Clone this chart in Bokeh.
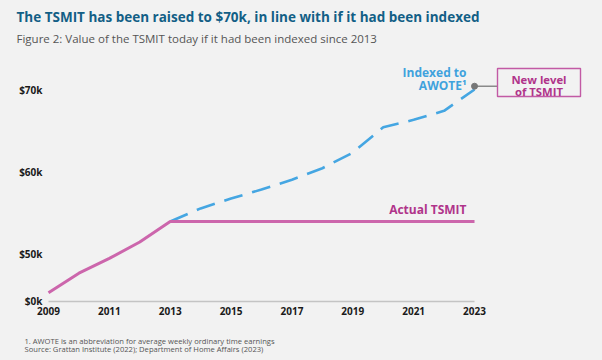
from bokeh.plotting import figure
from bokeh.models import Label, FixedTicker, CustomJSTickFormatter, Range1d, LinearAxis, BoxAnnotation
from bokeh.embed import file_html
from bokeh.resources import INLINE

# ---- data (values in $ thousands) ----
years = list(range(2009, 2024))
actual_tsmit = [45.2, 47.6, 49.4, 51.4, 53.9, 53.9, 53.9, 53.9, 53.9, 53.9, 53.9, 53.9, 53.9, 53.9, 53.9]
indexed_years = list(range(2013, 2024))
indexed_awote = [53.9, 55.5, 56.7, 57.8, 59.0, 60.4, 62.3, 65.4, 66.3, 67.4, 70.0]
x_ticks = [2009, 2011, 2013, 2015, 2017, 2019, 2021, 2023]
y_ticks = [44.15, 50, 60, 70]   # 44.15 is the axis-break position shown as "$0k"
zero_pos = 44.15

BG = "#f2f2f2"
PINK = "#cc66ac"
PINK_TXT = "#b0348a"
BLUE = "#45a6e2"
BLUE_TXT = "#3fa2dd"
TITLE_C = "#125f86"
FONT = "Open Sans"

W, H = 590, 358
# pixel geometry of the chart area
PXY = 30.43          # pixels per year
PXK = 8.2            # pixels per $1k
X_2009 = 48          # pixel x of 2009
Y_50K = 253          # pixel y of $50k


def dx(px):
    return 2009 + (px - X_2009) / PXY


def dy(py):
    return 50 + (Y_50K - py) / PXK


p = figure(width=W, height=H, output_backend="svg", toolbar_location=None,
           x_range=Range1d(dx(0), dx(W)), y_range=Range1d(dy(H), dy(0)),
           x_axis_type=None, y_axis_type=None,
           min_border_left=0, min_border_right=0, min_border_top=0, min_border_bottom=0)
p.background_fill_color = BG
p.border_fill_color = BG
p.outline_line_color = None
p.grid.visible = False

xaxis = LinearAxis(ticker=FixedTicker(ticks=x_ticks), fixed_location=dy(304))
yaxis = LinearAxis(ticker=FixedTicker(ticks=y_ticks), fixed_location=dx(44))
yaxis.formatter = CustomJSTickFormatter(code="""
    if (tick < 45) { return "$0k"; }
    return "$" + tick.toFixed(0) + "k";
""")
for ax in (xaxis, yaxis):
    ax.axis_line_color = None
    ax.major_tick_line_color = None
    ax.minor_tick_line_color = None
    ax.major_tick_out = 0
    ax.major_tick_in = 0
    ax.major_label_text_font = FONT
    ax.major_label_text_font_style = "bold"
    ax.major_label_text_font_size = "10px"
    ax.major_label_text_color = "#1a1a1a"
xaxis.major_label_standoff = 2
yaxis.major_label_standoff = 2
p.add_layout(xaxis, "below")
p.add_layout(yaxis, "left")

# baseline (broken axis line)
p.segment(x0=[years[0]], x1=[years[-1]], y0=[zero_pos], y1=[zero_pos], line_color="#c4c4c4", line_width=1.5)

# series
p.line(x=indexed_years, y=indexed_awote, line_color=BLUE, line_width=2.6, line_dash="19 10")
p.line(x=years, y=actual_tsmit, line_color=PINK, line_width=3)

# callout dot + connector + box
p.segment(x0=[indexed_years[-1]], x1=[dx(497)],
          y0=[indexed_awote[-1] + 0.4], y1=[indexed_awote[-1] + 0.4], line_color="#8a8a8a", line_width=1.5)
p.scatter(x=[indexed_years[-1]], y=[indexed_awote[-1] + 0.4], size=6, color="#777777")
p.add_layout(BoxAnnotation(left=dx(497), right=dx(580), top=dy(68), bottom=dy(96),
                           fill_color=None, fill_alpha=0, line_color="#c25aa5", line_alpha=1,
                           line_width=1.4))


def lab(text, px, py, size, color, style="normal", align="left"):
    p.add_layout(Label(x=px, y=H - py, x_units="screen", y_units="screen", text=text,
                       text_font=FONT, text_font_size=size, text_color=color,
                       text_font_style=style, text_align=align, text_baseline="middle"))


lab("The TSMIT has been raised to $70k, in line with if it had been indexed", 16, 16, "13.5px", TITLE_C, "bold")
lab("Figure 2: Value of the TSMIT today if it had been indexed since 2013", 16, 38, "11.5px", "#555555")
lab("Indexed to", 466, 72, "12px", BLUE_TXT, "bold", "right")
lab("AWOTE\u00b9", 466, 84.5, "12px", BLUE_TXT, "bold", "right")
lab("New level", 538.5, 78.5, "11.3px", PINK_TXT, "bold", "center")
lab("of TSMIT", 538.5, 90.5, "11.3px", PINK_TXT, "bold", "center")
lab("Actual TSMIT", 466, 209, "12px", PINK_TXT, "bold", "right")
lab("1. AWOTE is an abbreviation for average weekly ordinary time earnings", 24, 340, "7.6px", "#555555")
lab("Source: Grattan Institute (2022); Department of Home Affairs (2023)", 24, 348.5, "7.6px", "#555555")

html = file_html(p, INLINE)
html = html.replace("<head>", "<head><style>body{background:#f2f2f2;}</style>", 1)
open("out.html", "w").write(html)
